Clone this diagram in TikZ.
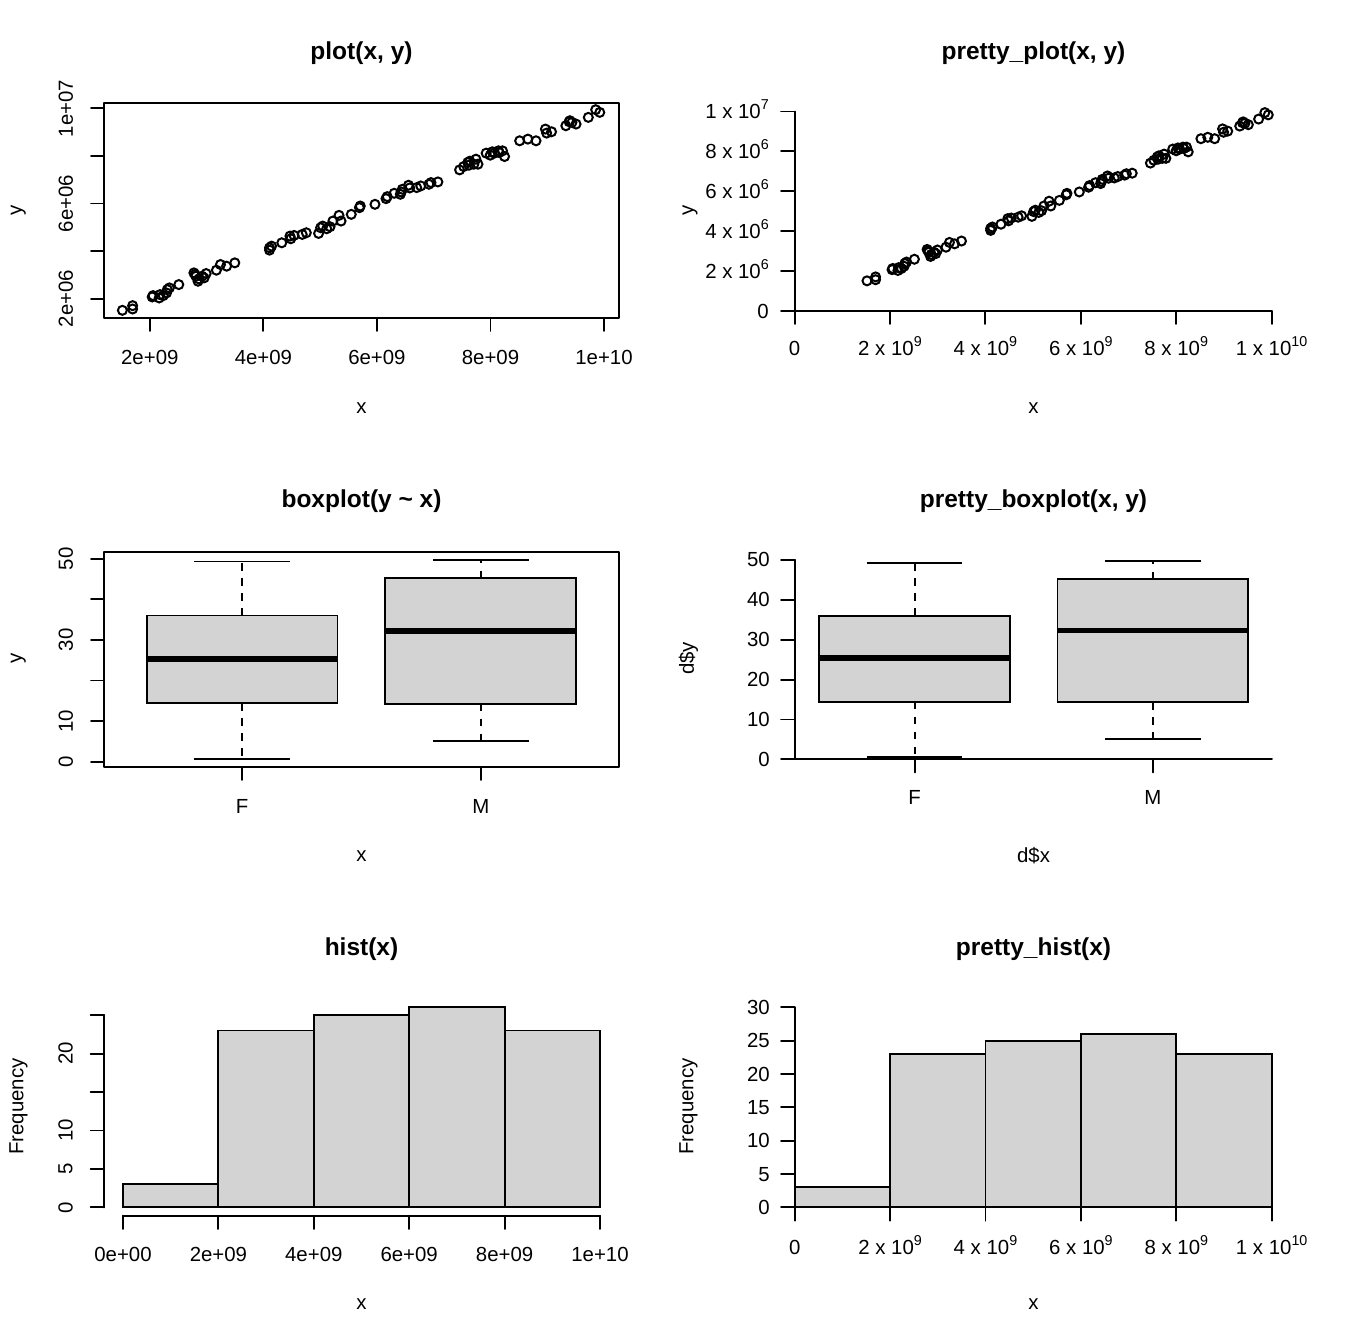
\documentclass[tikz,border=0pt]{standalone}
\usepackage{fontspec}
\setmainfont{Liberation Sans}
\definecolor{lg}{HTML}{D3D3D3}
\newcommand{\sps}[1]{\raisebox{0.45em}{\fontsize{14.3}{15}\selectfont #1}}
\tikzset{
  ax/.style={line width=1.9pt, line cap=round, line join=round},
  tickl/.style={font=\fontsize{20.4}{24}\selectfont, inner sep=0pt},
  ttl/.style={font=\fontsize{24.5}{29}\selectfont\bfseries, inner sep=0pt},
  ptc/.style={line width=2pt},
  bar/.style={fill=lg, draw=black, line width=1.9pt},
  bxf/.style={fill=lg, draw=black, line width=1.9pt},
  whisk/.style={line width=1.9pt, dash pattern=on 7.5pt off 7.5pt},
  capl/.style={line width=1.9pt},
  medl/.style={line width=5.8pt, line cap=butt}
}
\newcommand{\drawbox}[7]{%
  \draw[whisk] (#1,#4) -- (#1,#3);
  \draw[whisk] (#1,#6) -- (#1,#7);
  \draw[capl] ({#1-#2/2},#3) -- ({#1+#2/2},#3);
  \draw[capl] ({#1-#2/2},#7) -- ({#1+#2/2},#7);
  \filldraw[bxf] ({#1-#2},#4) rectangle ({#1+#2},#6);
  \draw[medl] ({#1-#2},#5) -- ({#1+#2},#5);
}
\begin{document}
\begin{tikzpicture}[x=1pt,y=-1pt]
\fill[white] (0,0) rectangle (1344,1344);
\useasboundingbox (0,0) rectangle (1344,1344);

%================ Panel 1: plot(x, y)
\node[ttl] (t1) at (361.5,53) {plot(x, y)};
\draw[ax] (104,103) rectangle (619,318);
\foreach \t/\l [count=\i] in {149.8/2e+09, 263.4/4e+09, 376.9/6e+09, 490.5/8e+09, 604.0/1e+10} {
  \draw[ax] (\t,318) -- (\t,331);
  \node[tickl] (p1x\i) at (\t,357) {\l};
}
\foreach \t in {298.6,251.0,203.5,155.9,108.4} { \draw[ax] (104,\t) -- (91,\t); }
\foreach \t/\l [count=\i] in {298.6/2e+06, 203.5/6e+06, 108.4/1e+07} {
  \node[tickl, rotate=90] (p1y\i) at (65.8,\t) {\l};
}
\node[tickl] (x1) at (361.5,408) {x};
\node[tickl, rotate=90] (y1) at (18.4,210.5) {y};

%================ Panel 2: pretty_plot(x, y)
\node[ttl] (t2) at (1033.5,53) {pretty\_plot(x, y)};
\draw[ax] (794.6,111.5) -- (794.6,311) -- (1271.6,311);
\foreach \k in {0,...,5} {
  \draw[ax] ({794.6+\k*95.4},311) -- ({794.6+\k*95.4},324);
  \draw[ax] (794.6,{311-\k*39.9}) -- (781,{311-\k*39.9});
}
\node[tickl, anchor=base] (p2x0) at (794.6,355.3) {0};
\node[tickl, anchor=base] (p2x1) at (890.0,355.3) {2 x 10\sps{9}};
\node[tickl, anchor=base] (p2x2) at (985.4,355.3) {4 x 10\sps{9}};
\node[tickl, anchor=base] (p2x3) at (1080.8,355.3) {6 x 10\sps{9}};
\node[tickl, anchor=base] (p2x4) at (1176.2,355.3) {8 x 10\sps{9}};
\node[tickl, anchor=base] (p2x5) at (1271.6,355.3) {1 x 10\sps{10}};
\node[tickl, anchor=base east] (p2y0) at (769,318.3) {0};
\node[tickl, anchor=base east] (p2y1) at (769,278.4) {2 x 10\sps{6}};
\node[tickl, anchor=base east] (p2y2) at (769,238.5) {4 x 10\sps{6}};
\node[tickl, anchor=base east] (p2y3) at (769,198.6) {6 x 10\sps{6}};
\node[tickl, anchor=base east] (p2y4) at (769,158.7) {8 x 10\sps{6}};
\node[tickl, anchor=base east] (p2y5) at (769,118.8) {1 x 10\sps{7}};
\node[tickl] (x2) at (1033.5,408) {x};
\node[tickl, rotate=90] (y2) at (690,210.5) {y};

% data points (both scatter plots)
\foreach \zx/\zy in {300/692,325/678,325/688,375/648,390/655,400/648,410/630,415/625,438/615,
  475/580,480/590,485/605,495/590,505/582,530/572,540/555,555/560,575/550,
  660/505,660/512,665/500,690/490,710/470,712/478,740/465,750/460,780/462,785/445,790/440,
  808/442,815/425,830/408,835/425,860/405,880/385,882/380,918/375,945/358,948/352,965/342,
  980/345,985/330,1000/318,1020/325,1030/320,1050/315,1055/310,1072/308,
  1125/272,1135/262,1145/250,1160/255,1165/240,1170/255,1190/222,1200/228,1210/222,1220/215,
  1230/215,1235/232,1272/185,1292/180,1312/185,1335/150,1338/162,1350/158,1385/140,1395/125,
  1400/130,1410/135,1440/115,1458/92,1468/100,
  478/585,500/595,373/652,408/640,720/468,800/448,1003/326,1150/246,1205/218,1393/128,
  487/598,392/645,1148/258,1222/220,982/338} {
  \draw[ptc] ({104+(\zx-255)*0.4087},{103+(\zy-72)*0.3344}) circle[radius=4.5];
  \draw[ptc] ({794.6+(2+(\zx-367)*0.0072007)*47.7},{311-(10-(\zy-88)*0.014060)*19.95}) circle[radius=4.5];
}

%================ Panel 3: boxplot(y ~ x)
\node[ttl] (t3) at (361.5,501) {boxplot(y \char`~{} x)};
\drawbox{242.1}{95.4}{759.3}{703.2}{658.6}{615.5}{561.5}
\drawbox{480.8}{95.4}{741.0}{703.6}{630.6}{578.2}{559.9}
\draw[ax] (104,552) rectangle (619,767);
\foreach \k in {0,...,5} { \draw[ax] (104,{761.7-\k*40.6}) -- (91,{761.7-\k*40.6}); }
\foreach \v/\k [count=\i] in {0/0,10/1,30/3,50/5} {
  \node[tickl, rotate=90] (p3y\i) at (65.8,{761.7-\k*40.6}) {\v};
}
\draw[ax] (242.1,767) -- (242.1,780);
\draw[ax] (480.8,767) -- (480.8,780);
\node[tickl] (p3F) at (242.1,806) {F};
\node[tickl] (p3M) at (480.8,806) {M};
\node[tickl] (x3) at (361.5,856) {x};
\node[tickl, rotate=90] (y3) at (18.4,658.5) {y};

%================ Panel 4: pretty_boxplot(x, y)
\node[ttl] (t4) at (1033.5,501) {pretty\_boxplot(x, y)};
\drawbox{914.6}{95.4}{757.0}{701.9}{658.1}{615.8}{562.7}
\drawbox{1152.9}{95.4}{739.1}{702.3}{630.5}{579.1}{561.1}
\draw[ax] (794.7,559.8) -- (794.7,759.4) -- (1272,759.4);
\foreach \k in {0,...,5} {
  \draw[ax] (794.7,{759.4-\k*39.92}) -- (781,{759.4-\k*39.92});
}
\foreach \v/\k [count=\i] in {0/0,10/1,20/2,30/3,40/4,50/5} {
  \node[tickl, anchor=east] (p4y\i) at (770,{759.4-\k*39.92}) {\v};
}
\draw[ax] (914.6,759.4) -- (914.6,772.5);
\draw[ax] (1152.9,759.4) -- (1152.9,772.5);
\node[tickl] (p4F) at (914.6,797.5) {F};
\node[tickl] (p4M) at (1152.9,797.5) {M};
\node[tickl] (x4) at (1033.5,856) {d\$x};
\node[tickl, rotate=90] (y4) at (688.4,658.5) {d\$y};

%================ Panel 5: hist(x)
\node[ttl] (t5) at (361.5,949) {hist(x)};
\draw[bar] (123,1207.4) rectangle (218.4,1184.3);
\draw[bar] (218.4,1207.4) rectangle (313.8,1030.5);
\draw[bar] (313.8,1207.4) rectangle (409.2,1015.1);
\draw[bar] (409.2,1207.4) rectangle (504.6,1007.4);
\draw[bar] (504.6,1207.4) rectangle (600,1030.5);
\draw[ax] (104.2,1207.4) -- (104.2,1015.1);
\foreach \k in {0,...,5} { \draw[ax] (104.2,{1207.4-\k*38.46}) -- (90.7,{1207.4-\k*38.46}); }
\foreach \v/\k [count=\i] in {0/0,5/1,10/2,20/4} {
  \node[tickl, rotate=90] (p5y\i) at (65.5,{1207.4-\k*38.46}) {\v};
}
\draw[ax] (123,1215.7) -- (600,1215.7);
\foreach \l [count=\i from 0] in {0e+00,2e+09,4e+09,6e+09,8e+09,1e+10} {
  \draw[ax] ({123+\i*95.4},1215.7) -- ({123+\i*95.4},1229);
  \node[tickl] (p5x\i) at ({123+\i*95.4},1254) {\l};
}
\node[tickl] (x5) at (361.5,1304) {x};
\node[tickl, rotate=90] (y5) at (18.4,1106.5) {Frequency};

%================ Panel 6: pretty_hist(x)
\node[ttl] (t6) at (1033.5,949) {pretty\_hist(x)};
\draw[bar] (794.7,1207.4) rectangle (890.1,1187.4);
\draw[bar] (890.1,1207.4) rectangle (985.5,1054.1);
\draw[bar] (985.5,1207.4) rectangle (1080.9,1040.7);
\draw[bar] (1080.9,1207.4) rectangle (1176.3,1034.1);
\draw[bar] (1176.3,1207.4) rectangle (1271.7,1054.1);
\draw[ax] (794.7,1007.4) -- (794.7,1207.4) -- (1271.7,1207.4);
\foreach \k in {0,...,6} {
  \draw[ax] (794.7,{1207.4-\k*33.333}) -- (781,{1207.4-\k*33.333});
  \pgfmathtruncatemacro{\vv}{5*\k}
  \node[tickl, anchor=east] (p6y\k) at (770,{1207.4-\k*33.333}) {\vv};
}
\foreach \k in {0,...,5} { \draw[ax] ({794.7+\k*95.4},1207.4) -- ({794.7+\k*95.4},1220.7); }
\node[tickl, anchor=base] (p6x0) at (794.7,1254.3) {0};
\node[tickl, anchor=base] (p6x1) at (890.1,1254.3) {2 x 10\sps{9}};
\node[tickl, anchor=base] (p6x2) at (985.5,1254.3) {4 x 10\sps{9}};
\node[tickl, anchor=base] (p6x3) at (1080.9,1254.3) {6 x 10\sps{9}};
\node[tickl, anchor=base] (p6x4) at (1176.3,1254.3) {8 x 10\sps{9}};
\node[tickl, anchor=base] (p6x5) at (1271.7,1254.3) {1 x 10\sps{10}};
\node[tickl] (x6) at (1033.5,1304) {x};
\node[tickl, rotate=90] (y6) at (688.4,1106.5) {Frequency};
\end{tikzpicture}
\end{document}
